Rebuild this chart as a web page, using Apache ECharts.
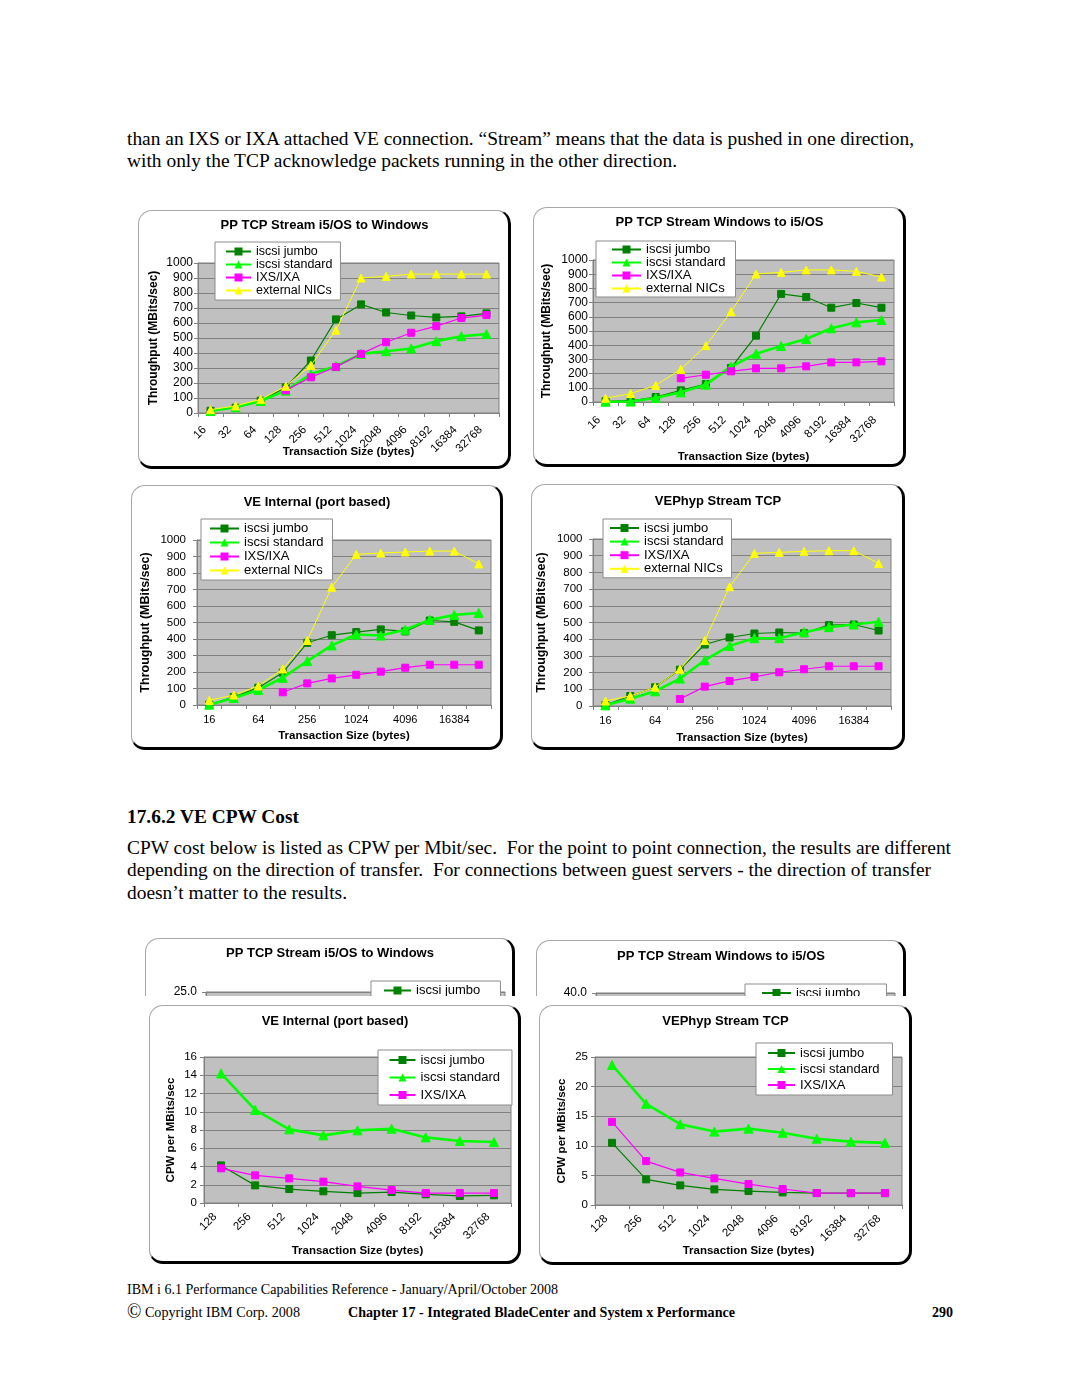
<!DOCTYPE html>
<html><head><meta charset="utf-8">
<script src="https://cdn.jsdelivr.net/npm/echarts@6/dist/echarts.min.js"></script>
<style>
html,body{margin:0;padding:0;background:#fff;}
body{width:1080px;height:1397px;position:relative;overflow:hidden;}
.t{position:absolute;white-space:pre;font-family:"Liberation Serif","Times New Roman",serif;color:#000;transform-origin:0 0;}
.frame{position:absolute;background:#fff;box-sizing:border-box;border:1px solid #a8a8a8;border-right:3px solid #000;border-bottom:3px solid #000;border-radius:14px;}
.clip{position:absolute;overflow:hidden;}
</style></head>
<body>
<script>
// ---------------- data ----------------
const sizesAll = ['16','32','64','128','256','512','1024','2048','4096','8192','16384','32768'];
const sizesCpw = ['128','256','512','1024','2048','4096','8192','16384','32768'];
const seriesNames = ['iscsi jumbo','iscsi standard','IXS/IXA','external NICs'];

// PP TCP Stream i5/OS to Windows (MBits/sec)
const p2wJumbo    = [15, 35, 82, 171, 350, 624, 724, 670, 650, 637, 644, 664];
const p2wStandard = [13, 38, 80, 149, 260, 312, 394, 412, 430, 479, 512, 526];
const p2wIxs      = [null, null, null, 151, 238, 307, 394, 472, 535, 579, 633, 653];
const p2wExternal = [22, 47, 91, 178, 318, 552, 900, 911, 926, 926, 926, 926];

// PP TCP Stream Windows to i5/OS (MBits/sec)
const w2pJumbo    = [5, 9, 35, 82, 127, 240, 467, 761, 739, 664, 697, 664];
const w2pStandard = [2, 3, 28, 68, 122, 249, 340, 394, 444, 519, 561, 577];
const w2pIxs      = [null, null, null, 167, 192, 216, 237, 237, 251, 279, 279, 286];
const w2pExternal = [26, 59, 117, 230, 397, 636, 901, 913, 930, 930, 920, 880];

// VE Internal (port based) (MBits/sec)
const veiJumbo    = [3, 48, 105, 196, 377, 423, 442, 458, 446, 512, 504, 452];
const veiStandard = [2, 42, 91, 165, 266, 361, 427, 421, 456, 516, 546, 558];
const veiIxs      = [null, null, null, 77, 131, 161, 183, 202, 226, 244, 244, 244];
const veiExternal = [28, 60, 115, 218, 391, 714, 913, 921, 927, 933, 933, 855];

// VEPhyp Stream TCP (MBits/sec)
const vepJumbo    = [6, 60, 112, 218, 368, 410, 434, 440, 436, 484, 488, 452];
const vepStandard = [4, 44, 88, 164, 274, 360, 406, 406, 442, 472, 488, 504];
const vepIxs      = [null, null, null, 42, 116, 150, 174, 202, 220, 238, 238, 238];
const vepExternal = [30, 60, 112, 220, 392, 714, 914, 920, 926, 930, 930, 854];

// CPW per MBits/sec – VE Internal (port based)
const cpwVeiJumbo    = [4.12, 1.93, 1.53, 1.28, 1.09, 1.2, 0.95, 0.77, 0.84];
const cpwVeiStandard = [14.2, 10.2, 8.07, 7.41, 7.96, 8.14, 7.19, 6.79, 6.68];
const cpwVeiIxs      = [3.8, 3.03, 2.7, 2.34, 1.82, 1.42, 1.09, 1.09, 1.09];

// CPW per MBits/sec – VEPhyp Stream TCP
const cpwVepJumbo    = [10.5, 4.33, 3.31, 2.64, 2.36, 2.13, 2.02, 2.0, 2.0];
const cpwVepStandard = [23.65, 17.1, 13.65, 12.4, 12.9, 12.2, 11.2, 10.7, 10.5];
const cpwVepIxs      = [14.04, 7.42, 5.5, 4.5, 3.54, 2.7, 2.02, 2.02, 2.02];

// CPW charts for point-to-point: covered in the reference, only their tops show (no visible values)
const cpwP2wHidden = [];
const cpwW2pHidden = [];

// ---------------- page text ----------------
const textLines = [
  {t:'than an IXS or IXA attached VE connection. \u201cStream\u201d means that the data is pushed in one direction,', x:127, cy:139, w:787, fs:19},
  {t:'with only the TCP acknowledge packets running in the other direction.', x:127, cy:161, w:550, fs:19},
  {t:'17.6.2 VE CPW Cost', x:127, cy:816, w:172, fs:19.5, b:true},
  {t:'CPW cost below is listed as CPW per Mbit/sec.  For the point to point connection, the results are different', x:127, cy:848, w:824, fs:19},
  {t:'depending on the direction of transfer.  For connections between guest servers - the direction of transfer', x:127, cy:870, w:804, fs:19},
  {t:'doesn\u2019t matter to the results.', x:127, cy:893, w:220, fs:19},
  {t:'IBM i 6.1 Performance Capabilities Reference - January/April/October 2008', x:127, cy:1290, w:431, fs:15},
  {t:' Copyright IBM Corp. 2008', x:127, cy:1313, w:173, fs:15, copy:true},
  {t:'Chapter 17 - Integrated BladeCenter and System x Performance', x:348, cy:1313, w:387, fs:15, b:true},
  {t:'290', x:932, cy:1313, w:21, fs:15, b:true}
];
textLines.forEach(l => {
  const d = document.createElement('div');
  d.className = 't';
  if (l.copy) {
    const s = document.createElement('span');
    s.textContent = '\u00a9';
    s.style.fontSize = '20px';
    s.style.lineHeight = '10px';
    s.style.verticalAlign = '-1px';
    d.appendChild(s);
    d.appendChild(document.createTextNode(l.t));
  } else {
    d.textContent = l.t;
  }
  d.style.fontSize = l.fs + 'px';
  d.style.lineHeight = Math.round(l.fs * 1.16) + 'px';
  d.style.fontWeight = l.b ? 'bold' : 'normal';
  d.style.left = l.x + 'px';
  d.style.top = (l.cy - l.fs * 0.58) + 'px';
  document.body.appendChild(d);
  const w = d.getBoundingClientRect().width;
  if (w > 0) d.style.transform = 'scaleX(' + (l.w / w) + ')';
});

// ---------------- charts ----------------
const SANS = '"Liberation Sans", Arial, sans-serif';
const STY = {
  'iscsi jumbo':    {color:'#008000', symbol:'rect', size:7, width:1.2},
  'iscsi standard': {color:'#00ff00', symbol:'triangle', size:9, width:2.6},
  'IXS/IXA':        {color:'#ff00ff', symbol:'rect', size:7, width:1.2},
  'external NICs':  {color:'#ffff00', symbol:'triangle', size:8, width:1}
};

function makeSeries(names, arrays) {
  return names.map((n, i) => ({
    name: n, type: 'line', data: arrays[i],
    symbol: STY[n].symbol, symbolSize: STY[n].size,
    itemStyle: {color: STY[n].color, borderColor: STY[n].color},
    lineStyle: {color: STY[n].color, width: STY[n].width},
    emphasis: {disabled: true}, connectNulls: false, z: 2 + i
  }));
}

function addChart(c) {
  let parent = document.body, ox = c.x, oy = c.y;
  if (c.clipH) {
    const clip = document.createElement('div');
    clip.className = 'clip';
    clip.style.cssText = 'left:' + c.x + 'px;top:' + c.y + 'px;width:' + (c.w + 6) + 'px;height:' + c.clipH + 'px;';
    document.body.appendChild(clip);
    parent = clip; ox = 0; oy = 0;
  }
  const frame = document.createElement('div');
  frame.className = 'frame';
  frame.style.cssText = 'left:' + ox + 'px;top:' + oy + 'px;width:' + c.w + 'px;height:' + c.h + 'px;';
  parent.appendChild(frame);
  const el = document.createElement('div');
  el.style.cssText = 'position:absolute;left:' + ox + 'px;top:' + oy + 'px;width:' + c.w + 'px;height:' + c.h + 'px;';
  parent.appendChild(el);
  const chart = echarts.init(el, null, {renderer: 'canvas'});
  const lg = c.lg;
  const xLabel = {interval: c.xInterval, rotate: c.rot, margin: c.xMargin, fontSize: c.xfs, color: '#000', fontFamily: SANS};
  if (c.rot) { xLabel.verticalAlign = 'bottom'; xLabel.padding = [0, 0, c.xPad, 0]; }
  chart.setOption({
    animation: false,
    textStyle: {fontFamily: SANS},
    title: {text: c.title, left: 'center', top: c.titleTop, padding: 0,
      textStyle: {fontFamily: SANS, fontSize: 13, fontWeight: 'bold', color: '#000'}},
    legend: {orient: 'vertical', left: lg.left, top: lg.top, padding: lg.pad, itemGap: lg.gap,
      itemWidth: lg.iw, itemHeight: 10, backgroundColor: '#fff', borderColor: '#8c8c8c', borderWidth: 1,
      textStyle: {fontFamily: SANS, fontSize: lg.fs, color: '#000'}, data: c.names, selectedMode: false},
    grid: {left: c.grid[0], top: c.grid[1], width: c.grid[2], height: c.grid[3], show: true,
      containLabel: false, outerBoundsMode: 'none',
      backgroundColor: '#c0c0c0', borderColor: '#808080', borderWidth: 1},
    xAxis: {type: 'category', data: c.cats, boundaryGap: true,
      axisLine: {show: true, lineStyle: {color: '#808080'}},
      axisTick: {show: true, interval: 0, length: 4, lineStyle: {color: '#808080'}},
      axisLabel: xLabel,
      splitLine: {show: false},
      name: 'Transaction Size (bytes)', nameLocation: 'middle', nameGap: c.xNameGap, nameMoveOverlap: false,
      nameTextStyle: {fontFamily: SANS, fontSize: 11.5, fontWeight: 'bold', color: '#000'}},
    yAxis: {type: 'value', min: 0, max: c.ymax, interval: c.yint,
      axisLine: {show: true, lineStyle: {color: '#808080'}},
      axisTick: {show: true, length: 4, lineStyle: {color: '#808080'}},
      axisLabel: {fontSize: c.yfs, color: '#000', margin: c.yMargin, fontFamily: SANS, formatter: c.yfmt || (v => String(v))},
      splitLine: {show: true, lineStyle: {color: '#808080', width: 1}},
      name: c.yName, nameLocation: 'middle', nameGap: c.yNameGap, nameMoveOverlap: false,
      nameTextStyle: {fontFamily: SANS, fontSize: c.yNameFs, fontWeight: 'bold', color: '#000'}},
    series: makeSeries(c.names, c.data)
  });
}

const TP = 'Throughput (MBits/sec)';
const CPW = 'CPW per MBits/sec';
const fmt1 = v => v.toFixed(1);

// top-left
addChart({x:138, y:210, w:373, h:259, title:'PP TCP Stream i5/OS to Windows', titleTop:8.5,
  grid:[60, 53, 301, 150], cats:sizesAll, rot:45, xInterval:0, xMargin:21, xPad:2.5, xfs:11.5, xNameGap:33,
  ymax:1000, yint:100, yfs:12, yMargin:5, yName:TP, yNameGap:38, yNameFs:12,
  lg:{left:77, top:32, pad:[3,8,3,10], gap:0, iw:25, fs:12.5},
  names:seriesNames, data:[p2wJumbo, p2wStandard, p2wIxs, p2wExternal]});

// top-right
addChart({x:533, y:207, w:373, h:260, title:'PP TCP Stream Windows to i5/OS', titleTop:8.5,
  grid:[60, 53, 301, 142], cats:sizesAll, rot:45, xInterval:0, xMargin:23, xPad:3.5, xfs:11.5, xNameGap:49,
  ymax:1000, yint:100, yfs:12, yMargin:5, yName:TP, yNameGap:40, yNameFs:12,
  lg:{left:63, top:34, pad:[2,10,2,15], gap:0, iw:29, fs:13},
  names:seriesNames, data:[w2pJumbo, w2pStandard, w2pIxs, w2pExternal]});

// middle-left
addChart({x:131, y:485, w:372, h:265, title:'VE Internal (port based)', titleTop:10.5,
  grid:[66, 55, 294, 165], cats:sizesAll, rot:0, xInterval:1, xMargin:9, xfs:11, xNameGap:25,
  ymax:1000, yint:100, yfs:11.5, yMargin:11, yName:TP, yNameGap:45, yNameFs:12.5,
  lg:{left:70, top:34, pad:[3,9,3,8], gap:1, iw:29, fs:13},
  names:seriesNames, data:[veiJumbo, veiStandard, veiIxs, veiExternal]});

// middle-right
addChart({x:531, y:484, w:374, h:266, title:'VEPhyp Stream TCP', titleTop:10.5,
  grid:[62, 55, 298, 167], cats:sizesAll, rot:0, xInterval:1, xMargin:9, xfs:11, xNameGap:26,
  ymax:1000, yint:100, yfs:11.5, yMargin:10.5, yName:TP, yNameGap:45, yNameFs:12.5,
  lg:{left:72, top:35, pad:[2.5,8,2.5,6], gap:0.6, iw:29, fs:13},
  names:seriesNames, data:[vepJumbo, vepStandard, vepIxs, vepExternal]});

// partially covered CPW charts (only their top strip shows)
addChart({x:145, y:938, w:370, h:260, clipH:58, title:'PP TCP Stream i5/OS to Windows', titleTop:8.5,
  grid:[61, 54, 299, 150], cats:sizesCpw, rot:45, xInterval:0, xMargin:18, xPad:2.5, xfs:11.5, xNameGap:40,
  ymax:25, yint:5, yfs:12, yMargin:9, yfmt:fmt1, yName:CPW, yNameGap:30, yNameFs:11.5,
  lg:{left:226, top:43, pad:[3,5,3,12], gap:4, iw:27, fs:13},
  names:seriesNames.slice(0,3), data:[cpwP2wHidden, cpwP2wHidden, cpwP2wHidden]});

addChart({x:536, y:940, w:370, h:260, clipH:56, title:'PP TCP Stream Windows to i5/OS', titleTop:9.5,
  grid:[60, 53, 299, 150], cats:sizesCpw, rot:45, xInterval:0, xMargin:18, xPad:2.5, xfs:11.5, xNameGap:40,
  ymax:40, yint:5, yfs:12, yMargin:9, yfmt:fmt1, yName:CPW, yNameGap:30, yNameFs:11.5,
  lg:{left:209, top:44, pad:[2.5,11,2.5,16], gap:4, iw:29, fs:13},
  names:seriesNames.slice(0,3), data:[cpwW2pHidden, cpwW2pHidden, cpwW2pHidden]});

// bottom-left
addChart({x:149, y:1005, w:372, h:259, title:'VE Internal (port based)', titleTop:9.5,
  grid:[55, 52, 307, 146], cats:sizesCpw, rot:45, xInterval:0, xMargin:18, xPad:2.5, xfs:11.5, xNameGap:42,
  ymax:16, yint:2, yfs:11.5, yMargin:7, yName:CPW, yNameGap:27, yNameFs:11.5,
  lg:{left:229, top:45, pad:[3.5,12,3.5,10.5], gap:4.5, iw:26, fs:13},
  names:seriesNames.slice(0,3), data:[cpwVeiJumbo, cpwVeiStandard, cpwVeiIxs]});

// bottom-right
addChart({x:539, y:1005, w:373, h:260, title:'VEPhyp Stream TCP', titleTop:9.5,
  grid:[56, 52, 307, 148], cats:sizesCpw, rot:45, xInterval:0, xMargin:18, xPad:2.5, xfs:11.5, xNameGap:40,
  ymax:25, yint:5, yfs:11.5, yMargin:7, yName:CPW, yNameGap:27, yNameFs:11.5,
  lg:{left:217, top:38, pad:[3.5,13,3.5,11], gap:3, iw:27, fs:13},
  names:seriesNames.slice(0,3), data:[cpwVepJumbo, cpwVepStandard, cpwVepIxs]});
</script>
</body></html>
